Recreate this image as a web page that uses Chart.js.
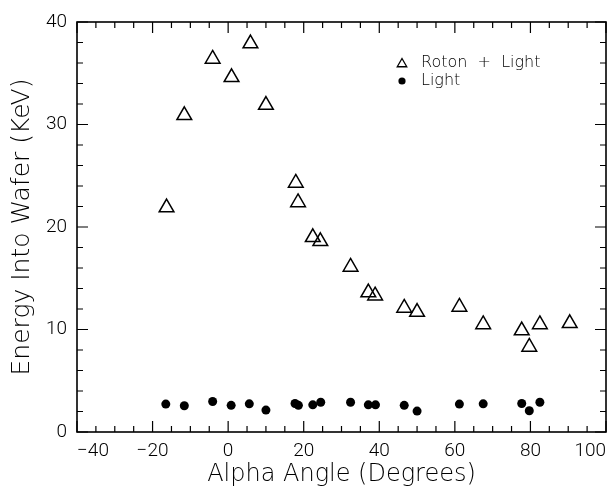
<!DOCTYPE html>
<html>
<head>
<meta charset="utf-8">
<script src="https://cdn.jsdelivr.net/npm/chart.js@4/dist/chart.umd.min.js"></script>
<style>
  html, body { margin: 0; padding: 0; background: #fff; }
  #wrap { width: 616px; height: 487px; position: relative; }
</style>
</head>
<body>
<div id="wrap"><canvas id="energy_chart"></canvas></div>
<script>
    // values
    const angle_roton = [-16.3, -11.6, -4.1, 0.9, 5.9, 10.0, 17.9, 18.5, 22.4, 24.4, 32.4, 37.1, 38.9, 46.6, 50.0, 61.2, 67.5, 77.7, 79.7, 82.5, 90.4];
    const energy_roton = [21.9, 30.9, 36.4, 34.6, 37.9, 31.9, 24.3, 22.4, 19.0, 18.6, 16.1, 13.6, 13.3, 12.1, 11.7, 12.2, 10.5, 9.9, 8.3, 10.5, 10.6];

    const angle_light = [-16.5, -11.6, -4.1, 0.8, 5.6, 10.0, 17.7, 18.6, 22.4, 24.5, 32.4, 37.1, 39.0, 46.6, 50.0, 61.2, 67.5, 77.7, 79.7, 82.5];
    const energy_light = [2.72, 2.56, 2.98, 2.6, 2.75, 2.14, 2.78, 2.6, 2.65, 2.9, 2.9, 2.65, 2.65, 2.6, 2.04, 2.72, 2.75, 2.78, 2.07, 2.9];

    const series_labels = ['Roton  +  Light', 'Light'];
    const x_title = 'Alpha Angle (Degrees)';
    const y_title = 'Energy Into Wafer (KeV)';

    const font_family = '"DejaVu Sans", sans-serif';
    const font_weight = 200;
    const tick_font = { family: 'Roboto, "DejaVu Sans", sans-serif', size: 19, weight: 300 };

    function merge(xs, ys) {
        var out = [];
        for (var i = 0; i < xs.length; i++) {
            out.push({x: xs[i], y: ys[i]});
        }
        return out;
    }

    // frame on all four sides with inward ticks, like the original plot
    const frame_plugin = {
        id: 'frame_ticks',
        beforeDatasetsDraw(chart) {
            const ctx = chart.ctx;
            const a = chart.chartArea;
            const xs = chart.scales.x;
            const ys = chart.scales.y;
            ctx.save();
            ctx.strokeStyle = '#000';
            ctx.lineWidth = 1.6;
            ctx.strokeRect(a.left, a.top, a.right - a.left, a.bottom - a.top);
            ctx.lineWidth = 1.2;
            ctx.beginPath();
            for (let v = -40; v <= 100; v += 5) {
                const px = xs.getPixelForValue(v);
                const len = (v % 20 === 0) ? 11 : 6;
                ctx.moveTo(px, a.bottom); ctx.lineTo(px, a.bottom - len);
                ctx.moveTo(px, a.top); ctx.lineTo(px, a.top + len);
            }
            for (let v = 0; v <= 40; v += 2) {
                const py = ys.getPixelForValue(v);
                const len = (v % 10 === 0) ? 11 : 6;
                ctx.moveTo(a.left, py); ctx.lineTo(a.left + len, py);
                ctx.moveTo(a.right, py); ctx.lineTo(a.right - len, py);
            }
            ctx.stroke();
            ctx.restore();
        },
        afterDraw(chart) {
            // legend inside the plot, upper right
            const ctx = chart.ctx;
            const a = chart.chartArea;
            const lx = a.left + 325;
            const rows = [a.top + 41, a.top + 59];
            ctx.save();
            ctx.strokeStyle = '#000';
            ctx.fillStyle = 'rgba(0,0,0,0)';
            ctx.lineWidth = 1.3;
            Chart.helpers.drawPoint(ctx, {pointStyle: 'triangle', radius: 5.5, borderWidth: 1.3}, lx, rows[0] + 1);
            ctx.fillStyle = '#000';
            ctx.beginPath();
            ctx.arc(lx, rows[1], 3.6, 0, Math.PI * 2);
            ctx.fill();
            ctx.font = font_weight + ' 16px ' + font_family;
            ctx.textBaseline = 'middle';
            ctx.textAlign = 'left';
            ctx.fillText(series_labels[0], lx + 19, rows[0]);
            ctx.fillText(series_labels[1], lx + 19, rows[1]);
            ctx.restore();
        }
    };

    let chartCanvas = document.getElementById('energy_chart').getContext('2d');
    let chartObject = new Chart(chartCanvas, {
        type: 'scatter',
        data: {
            datasets: [{
                label: series_labels[0],
                data: merge(angle_roton, energy_roton),
                pointStyle: 'triangle',
                pointRadius: 8.5,
                pointHoverRadius: 8.5,
                borderColor: '#000',
                backgroundColor: 'rgba(0,0,0,0)',
                pointBorderWidth: 1.5,
            }, {
                label: series_labels[1],
                data: merge(angle_light, energy_light),
                pointStyle: 'circle',
                pointRadius: 4.5,
                pointHoverRadius: 4.5,
                borderWidth: 0,
                pointBorderWidth: 0,
                backgroundColor: '#000',
            }]
        },
        options: {
            responsive: true,
            maintainAspectRatio: false,
            animation: false,
            devicePixelRatio: 1,
            layout: { padding: { top: 22, right: 7, left: 0, bottom: 0 } },
            plugins: {
                legend: { display: false },
                tooltip: { enabled: false },
            },
            scales: {
                x: {
                    type: 'linear',
                    min: -40,
                    max: 100,
                    grid: { display: false, drawTicks: false },
                    border: { display: false },
                    ticks: {
                        stepSize: 20,
                        align: 'inner',
                        padding: 8,
                        color: '#000',
                        font: tick_font,
                        callback: v => String(v).replace('-', '\u2212'),
                    },
                    title: {
                        display: true,
                        text: x_title,
                        color: '#000',
                        font: { family: font_family, size: 24, weight: font_weight, lineHeight: 1 },
                        padding: { top: 0, bottom: 0 },
                    },
                    afterFit: s => { s.height = 55; },
                },
                y: {
                    type: 'linear',
                    min: 0,
                    max: 40,
                    grid: { display: false, drawTicks: false },
                    border: { display: false },
                    ticks: {
                        stepSize: 10,
                        padding: 10,
                        color: '#000',
                        font: tick_font,
                    },
                    title: {
                        display: true,
                        text: y_title,
                        color: '#000',
                        font: { family: font_family, size: 25, weight: font_weight, lineHeight: 1 },
                        padding: { top: 10, bottom: 0 },
                    },
                    afterFit: s => { s.width = 77; },
                },
            },
        },
        plugins: [frame_plugin],
    });
</script>
</body>
</html>
